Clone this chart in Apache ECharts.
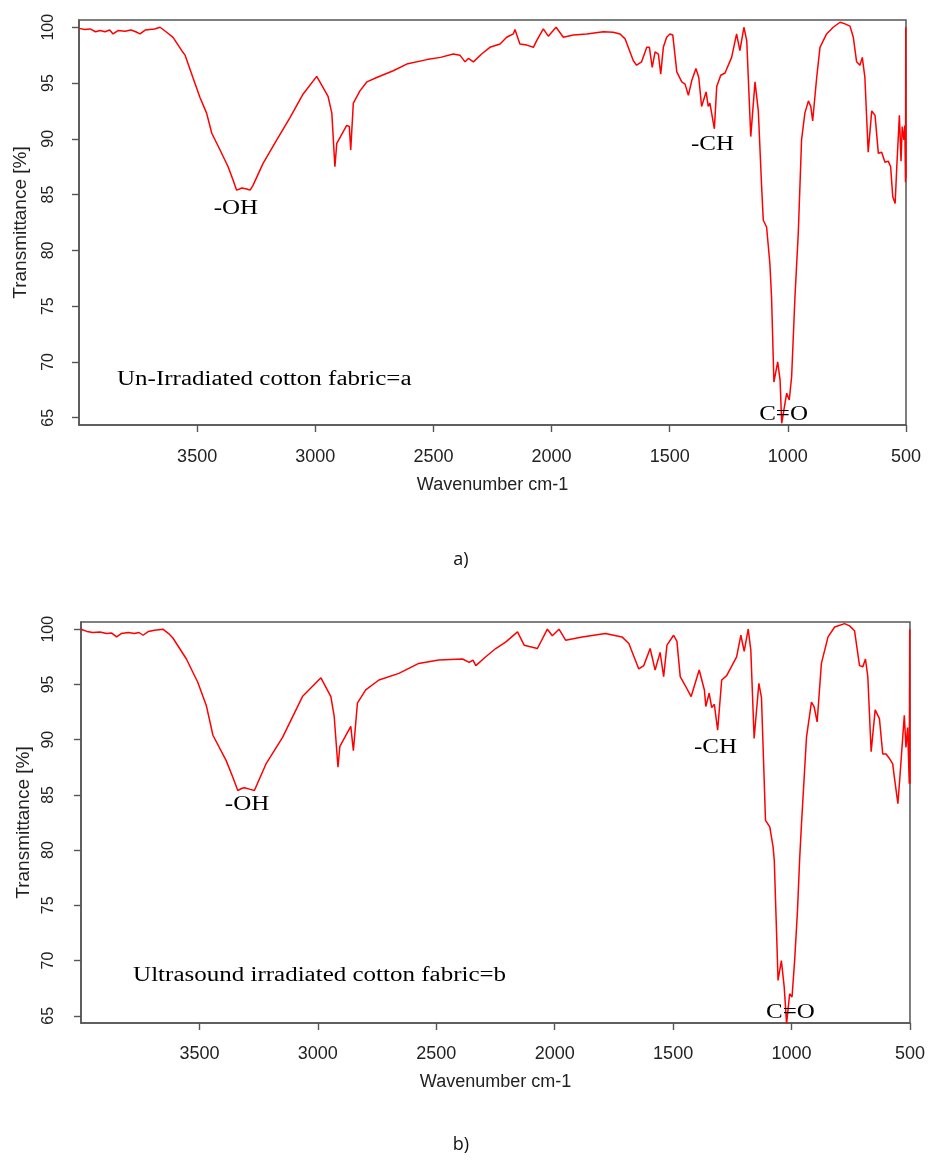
<!DOCTYPE html>
<html><head><meta charset="utf-8">
<script src="https://cdn.jsdelivr.net/npm/echarts@6/dist/echarts.min.js"></script>
<style>html,body{margin:0;padding:0;background:#fff}#c{width:928px;height:1160px}</style>
</head><body><div id="c"></div>
<script>
// ---- data: panel a (un-irradiated) ----
const waveA = [4000,3975,3953,3930,3911,3890,3870,3856,3835,3805,3780,3760,3742,3720,3700,3680,3657,3629,3602,3565,3551,3518,3488,3460,3438,3403,3369,3348,3333,3320,3311,3290,3276,3264,3221,3163,3107,3052,2994,2959,2946,2930,2917,2909,2867,2856,2850,2839,2811,2782,2740,2670,2613,2528,2470,2416,2388,2366,2352,2331,2296,2261,2218,2190,2162,2155,2134,2105,2077,2063,2035,2014,1981,1950,1908,1851,1781,1739,1710,1689,1654,1640,1619,1597,1586,1574,1562,1548,1538,1527,1513,1499,1487,1470,1449,1435,1421,1407,1389,1377,1365,1346,1337,1330,1311,1301,1284,1266,1238,1217,1203,1186,1174,1157,1139,1125,1111,1104,1090,1076,1069,1059,1043,1033,1026,1012,1005,994,984,970,956,942,928,913,903,895,878,864,836,808,779,758,737,723,709,695,685,674,660,645,631,617,603,589,575,565,556,546,539,528,521,516,509,505,502,501,500];
const transA = [99.9,99.8,99.85,99.6,99.7,99.6,99.75,99.4,99.7,99.65,99.75,99.6,99.4,99.75,99.8,99.85,100.0,99.55,99.1,97.9,97.5,95.5,93.7,92.3,90.5,89.0,87.5,86.3,85.4,85.5,85.6,85.5,85.4,85.8,87.8,89.9,91.9,94.0,95.6,94.3,93.8,92.3,87.5,89.6,91.2,91.1,89.0,93.2,94.3,95.1,95.5,96.1,96.7,97.1,97.3,97.6,97.5,96.9,97.2,96.9,97.6,98.2,98.5,99.1,99.4,99.8,98.5,98.4,98.2,98.8,99.85,99.2,100.0,99.1,99.3,99.4,99.6,99.55,99.4,98.96,97.0,96.6,96.9,98.2,98.2,96.4,97.8,97.6,95.8,98.2,99.1,99.4,99.3,96.0,95.1,94.9,93.9,95.2,96.3,95.5,92.9,94.2,92.9,93.2,90.9,94.7,95.7,95.9,97.3,99.4,97.9,100.0,98.8,90.2,95.1,92.5,85.7,82.7,82.1,78.8,75.8,68.2,70.0,68.4,64.5,66.3,67.2,66.6,68.7,75.8,81.5,89.9,92.3,93.4,92.9,91.6,95.5,98.2,99.4,100.0,100.45,100.3,100.1,99.1,96.9,96.6,97.3,95.5,88.8,92.5,92.1,88.7,88.8,87.9,88.0,87.5,84.8,84.2,87.5,92.1,88.0,91.1,89.9,91.2,86.1,100.0,86.5];

// ---- data: panel b (ultrasound irradiated) ----
const waveB = [4000,3975,3950,3920,3892,3870,3850,3830,3800,3775,3755,3738,3715,3690,3654,3630,3612,3555,3507,3471,3443,3387,3359,3338,3320,3310,3285,3268,3219,3149,3065,2987,2945,2931,2915,2907,2861,2850,2833,2798,2742,2658,2574,2490,2389,2361,2345,2333,2291,2249,2206,2157,2129,2073,2031,2010,1982,1954,1884,1786,1716,1687,1645,1624,1597,1576,1555,1540,1526,1498,1484,1470,1449,1424,1390,1368,1362,1348,1337,1326,1312,1295,1274,1232,1214,1200,1183,1172,1158,1138,1127,1110,1092,1078,1073,1064,1057,1043,1031,1021,1008,998,987,975,966,958,937,916,905,892,874,846,818,776,755,734,713,699,688,678,664,647,629,615,601,587,573,566,551,541,524,517,510,503,501,500];
const transB = [100.0,99.8,99.7,99.75,99.6,99.65,99.3,99.6,99.7,99.6,99.7,99.45,99.8,99.9,100.0,99.6,99.2,97.3,95.2,93.1,90.4,88.1,86.6,85.4,85.6,85.65,85.5,85.4,87.8,90.2,93.9,95.6,93.9,92.1,87.5,89.4,91.2,89.0,93.3,94.5,95.4,96.0,96.9,97.2,97.3,97.0,97.2,96.7,97.5,98.25,98.85,99.75,98.55,98.25,100.0,99.4,100.0,99.0,99.3,99.6,99.3,98.7,96.4,96.7,98.25,96.3,97.9,95.7,98.55,99.45,98.9,95.7,94.9,93.9,96.3,94.5,93.0,94.2,92.9,93.2,90.85,95.4,95.8,97.5,99.45,98.0,100.0,98.1,90.1,95.1,93.8,82.7,82.1,80.3,79.1,73.0,68.2,70.0,67.6,64.3,67.0,66.7,70.0,74.5,79.1,82.4,90.2,93.4,93.0,91.6,96.9,99.3,100.2,100.5,100.3,99.85,96.7,96.6,97.3,95.7,88.9,92.7,91.9,88.7,88.7,88.3,87.8,86.6,84.2,87.1,92.2,89.3,91.1,86.0,100.0,86.0];

// ---- axis ticks ----
const xTicks = [3500,3000,2500,2000,1500,1000,500];
const yTicks = [65,70,75,80,85,90,95,100];

// ---- annotations (text, anchor wavenumber, anchor transmittance) ----
const noteText = ['-OH','-CH','C=O'];
const noteWaveA = [3336,1319,1018];
const noteValA = [83.77,89.5,65.24];
const noteWaveB = [3299,1321,1005];
const noteValB = [84.15,89.27,65.26];
const captionA = 'Un-Irradiated cotton fabric=a';
const captionB = 'Ultrasound irradiated cotton fabric=b';
const captionPosA = [3839, 68.43];
const captionPosB = [3780, 68.66];

const FRAME = '#555';
const TXT = '#222';

function zip(xs, ys){ return xs.map((x,i)=>[x, ys[i]]); }

function xAxisCfg(gridIndex, labelMargin, nameGap){
  return {
    type:'value', gridIndex, min:500, max:4000, inverse:true,
    axisLine:{show:true, lineStyle:{color:FRAME, width:1.5}},
    axisTick:{show:true, length:7, customValues:xTicks, lineStyle:{color:FRAME, width:1.4}},
    axisLabel:{customValues:xTicks, fontSize:18, color:TXT, fontFamily:'Liberation Sans', margin:labelMargin,
               formatter:(v)=>String(v)},
    splitLine:{show:false},
    name:'Wavenumber cm-1', nameLocation:'middle', nameGap,
    nameTextStyle:{fontSize:18, color:TXT, fontFamily:'Liberation Sans'}
  };
}
function yAxisCfg(gridIndex, labelMargin, nameGap){
  return {
    type:'value', gridIndex, min:64.35, max:100.65,
    axisLine:{show:true, lineStyle:{color:FRAME, width:1.5}},
    axisTick:{show:true, length:7, customValues:yTicks, lineStyle:{color:FRAME, width:1.4}},
    axisLabel:{customValues:yTicks, rotate:90, fontSize:16, color:TXT, fontFamily:'Liberation Sans', margin:labelMargin,
               formatter:(v)=>String(v)},
    splitLine:{show:false},
    name:'Transmittance [%]', nameLocation:'middle', nameRotate:90, nameGap,
    nameTextStyle:{fontSize:19, color:TXT, fontFamily:'Liberation Sans'}
  };
}

const chart = echarts.init(document.getElementById('c'), null, {renderer:'canvas'});
chart.setOption({
  animation:false,
  backgroundColor:'#fff',
  grid:[
    {left:79, top:20, width:827, height:405, show:true, borderColor:FRAME, borderWidth:1.5, backgroundColor:'transparent'},
    {left:81, top:622, width:832, height:401, show:true, borderColor:FRAME, borderWidth:1.5, backgroundColor:'transparent'}
  ],
  xAxis:[xAxisCfg(0, 23, 51), xAxisCfg(1, 22, 50)],
  yAxis:[yAxisCfg(0, 22, 49), yAxisCfg(1, 24, 48)],
  series:[
    {type:'line', xAxisIndex:0, yAxisIndex:0, data:zip(waveA, transA), showSymbol:false, symbol:'none',
     lineStyle:{color:'#ff0000', width:1.5}, silent:true},
    {type:'line', xAxisIndex:1, yAxisIndex:1, data:zip(waveB, transB), showSymbol:false, symbol:'none',
     lineStyle:{color:'#ff0000', width:1.5}, silent:true}
  ]
});

function serifText(p, text, align){
  return {type:'text', x:p[0], y:p[1], scaleX:1.25, z:100,
    style:{text, font:'20px "Liberation Serif"', fill:'#000', align, verticalAlign:'middle',
           textAlign:align, textVerticalAlign:'middle'}};
}
const els = [];
noteText.forEach((t,i)=>{
  els.push(serifText(chart.convertToPixel({xAxisIndex:0, yAxisIndex:0}, [noteWaveA[i], noteValA[i]]), t, 'center'));
  els.push(serifText(chart.convertToPixel({xAxisIndex:1, yAxisIndex:1}, [noteWaveB[i], noteValB[i]]), t, 'center'));
});
els.push(serifText(chart.convertToPixel({xAxisIndex:0, yAxisIndex:0}, captionPosA), captionA, 'left'));
els.push(serifText(chart.convertToPixel({xAxisIndex:1, yAxisIndex:1}, captionPosB), captionB, 'left'));
els.push({type:'text', x:461, y:560, style:{text:'a)', font:'18px "Open Sans"', fill:'#111', align:'center', verticalAlign:'middle', textAlign:'center', textVerticalAlign:'middle'}});
els.push({type:'text', x:461, y:1145, style:{text:'b)', font:'18px "Open Sans"', fill:'#111', align:'center', verticalAlign:'middle', textAlign:'center', textVerticalAlign:'middle'}});
chart.setOption({graphic:{elements:els}});
</script>
</body></html>
